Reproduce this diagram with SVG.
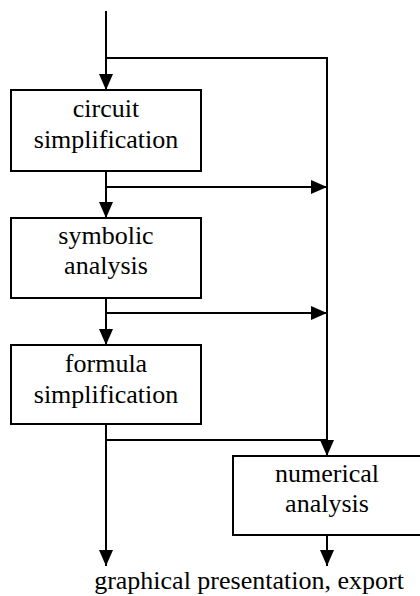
<svg xmlns="http://www.w3.org/2000/svg" width="420" height="596" viewBox="0 0 420 596">
<defs>
<style>
.box{fill:#fff;stroke:#000;stroke-width:2}
.ln{fill:none;stroke:#000;stroke-width:2}
.t{font-size:26px;fill:#000;text-anchor:middle}
</style>
<marker id="ah" viewBox="0 0 16 14" refX="16" refY="7" markerWidth="16" markerHeight="14" markerUnits="userSpaceOnUse" orient="auto">
<path d="M0,0 L16,7 L0,14 Z" fill="#000"/>
</marker>
</defs>
<g id="connectors">
<path class="ln" d="M106,11 V90" marker-end="url(#ah)"/>
<path class="ln" d="M106,58 H327 V456" marker-end="url(#ah)"/>
<path class="ln" d="M106,171 V218" marker-end="url(#ah)"/>
<path class="ln" d="M106,187 H327" marker-end="url(#ah)"/>
<path class="ln" d="M106,298 V345" marker-end="url(#ah)"/>
<path class="ln" d="M106,313 H327" marker-end="url(#ah)"/>
<path class="ln" d="M106,424 V566" marker-end="url(#ah)"/>
<path class="ln" d="M106,440 H327"/>
<path class="ln" d="M327,535 V566" marker-end="url(#ah)"/>
</g>
<g font-family="'Liberation Serif', 'Times New Roman', 'DejaVu Serif', serif">
<g id="circuit-simplification">
<rect class="box" x="11" y="90" width="190" height="81"/>
<text class="t" x="106" y="117">circuit</text>
<text class="t" x="106" y="148">simplification</text>
</g>
<g id="symbolic-analysis">
<rect class="box" x="11" y="218" width="190" height="80"/>
<text class="t" x="106" y="244">symbolic</text>
<text class="t" x="106" y="274">analysis</text>
</g>
<g id="formula-simplification">
<rect class="box" x="11" y="345" width="190" height="79"/>
<text class="t" x="106" y="372">formula</text>
<text class="t" x="106" y="403">simplification</text>
</g>
<g id="numerical-analysis">
<rect class="box" x="233" y="456" width="190" height="79"/>
<text class="t" x="327" y="482">numerical</text>
<text class="t" x="327" y="512">analysis</text>
</g>
<g id="output">
<text class="t" x="249" y="589">graphical presentation, export</text>
</g>
</g>
</svg>
